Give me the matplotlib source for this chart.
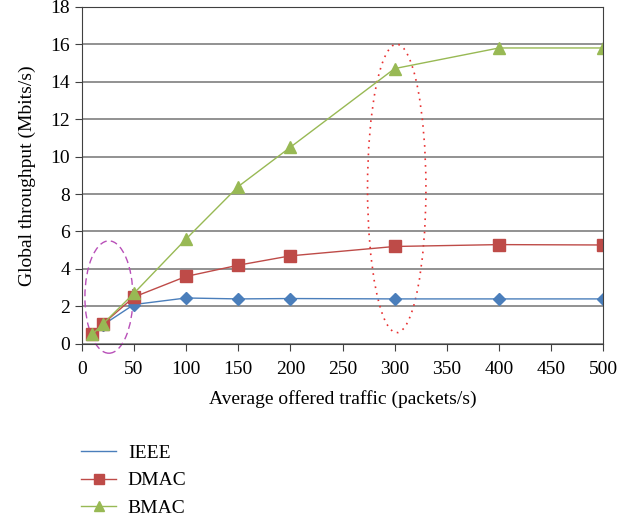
import matplotlib.pyplot as plt
from matplotlib.patches import Ellipse
from matplotlib.lines import Line2D

x = [10, 20, 50, 100, 150, 200, 300, 400, 500]
ieee = [0.5, 1.0, 2.1, 2.45, 2.4, 2.42, 2.4, 2.4, 2.4]
dmac = [0.5, 1.05, 2.5, 3.6, 4.2, 4.7, 5.2, 5.3, 5.28]
bmac = [0.5, 1.05, 2.7, 5.6, 8.4, 10.5, 14.7, 15.8, 15.8]

plt.rcParams['font.family'] = ['Liberation Serif', 'DejaVu Serif']

fig = plt.figure(figsize=(6.39, 5.21), dpi=100)
ax = fig.add_axes([0.128, 0.340, 0.816, 0.647])

l1, = ax.plot(x, ieee, color='#4a7ebb', linewidth=1.0, marker='D', markersize=6, label='IEEE')
l2, = ax.plot(x, dmac, color='#be4b48', linewidth=1.0, marker='s', markersize=9, label='DMAC')
l3, = ax.plot(x, bmac, color='#98b954', linewidth=1.0, marker='^', markersize=9, label='BMAC')

ax.set_xlim(0, 500)
ax.set_ylim(0, 18)
ax.set_xticks(range(0, 501, 50))
ax.set_yticks(range(0, 19, 2))
ax.grid(axis='y', color='#7f7f7f', linewidth=1.2)
ax.set_axisbelow(True)
for s in ax.spines.values():
    s.set_color('#404040')
ax.tick_params(direction='out', labelsize=14, color='#404040', length=5)
ax.tick_params(axis='x', pad=7)
ax.set_xlabel('Average offered traffic (packets/s)', fontsize=14, labelpad=9)
ax.set_ylabel('Global throughput (Mbits/s)', fontsize=14, labelpad=10)

ax.add_patch(Ellipse((26, 2.5), 46, 6.0, fill=False, edgecolor='#b84fb8',
                     linestyle=(0, (5, 3)), linewidth=1.0, clip_on=False))
ax.add_patch(Ellipse((302, 8.3), 56, 15.4, fill=False, edgecolor='#e83030',
                     linestyle=(0, (1, 3)), linewidth=1.2, clip_on=False))

# legend: IEEE shown as plain line
h1 = Line2D([], [], color='#4a7ebb', linewidth=1.0)
leg = fig.legend([h1, l2, l3], ['IEEE', 'DMAC', 'BMAC'], loc='upper left',
                 bbox_to_anchor=(0.127, 0.147), frameon=False, fontsize=14,
                 handlelength=1.8, handletextpad=0.6, labelspacing=0.5,
                 borderaxespad=0, borderpad=0, markerscale=0.8)

fig.savefig('out.png', dpi=100)
